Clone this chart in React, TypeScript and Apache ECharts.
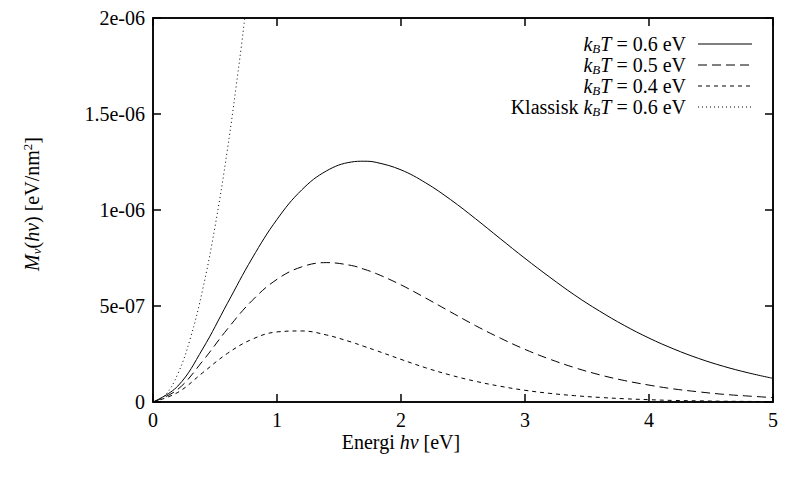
import { useEffect, useRef } from "react";
import * as echarts from "echarts";

// energy values (eV)
const energies = [0, 0.2, 0.4, 0.6, 0.8, 1.0, 1.2, 1.4, 1.6, 1.7, 1.8, 2.0, 2.2, 2.4, 2.6, 2.8, 3.0, 3.2, 3.4, 3.6, 3.8, 4.0, 4.2, 4.4, 4.6, 4.8, 5.0];
// M values in units of 1e-6 eV/nm^2
const kT06 = [0, 0.083, 0.276, 0.514, 0.749, 0.951, 1.105, 1.204, 1.25, 1.254, 1.248, 1.209, 1.141, 1.054, 0.955, 0.851, 0.748, 0.65, 0.557, 0.474, 0.399, 0.333, 0.276, 0.227, 0.186, 0.152, 0.123];
const kT05 = [0, 0.066, 0.213, 0.38, 0.529, 0.639, 0.704, 0.726, 0.711, 0.692, 0.669, 0.61, 0.541, 0.469, 0.398, 0.333, 0.274, 0.223, 0.179, 0.142, 0.112, 0.088, 0.068, 0.053, 0.04, 0.031, 0.023];
const kT04 = [0, 0.05, 0.152, 0.253, 0.327, 0.365, 0.37, 0.349, 0.312, 0.29, 0.268, 0.222, 0.178, 0.14, 0.108, 0.082, 0.061, 0.045, 0.033, 0.024, 0.017, 0.012, 0.008, 0.006, 0.004, 0.003, 0.002];
const classicalX = [0, 0.1, 0.2, 0.3, 0.4, 0.5, 0.6, 0.7, 0.74];
const classicalY = [0, 0.037, 0.146, 0.329, 0.584, 0.913, 1.314, 1.789, 2.0];
const yTickLabels = ["0", "5e-07", "1e-06", "1.5e-06", "2e-06"];
const legendLabels = [
  "{i|k}{s|B}{i|T}{r| = 0.6 eV}",
  "{i|k}{s|B}{i|T}{r| = 0.5 eV}",
  "{i|k}{s|B}{i|T}{r| = 0.4 eV}",
  "{r|Klassisk }{i|k}{s|B}{i|T}{r| = 0.6 eV}",
];
const dashes: (number[] | "solid")[] = ["solid", [9, 5], [4, 4], [1, 3]];

const font = "'Liberation Serif', 'DejaVu Serif', serif";
const rich = {
  r: { fontFamily: font, fontSize: 20, fill: "#000" },
  i: { fontFamily: font, fontSize: 20, fontStyle: "italic" as const, fill: "#000" },
  s: { fontFamily: font, fontSize: 13, fontStyle: "italic" as const, fill: "#000", padding: [8, 0, 0, 0] },
  sup: { fontFamily: font, fontSize: 13, fill: "#000", padding: [0, 0, 9, 0] },
};

const App = () => {
  const ref = useRef<HTMLDivElement>(null);

  useEffect(() => {
    if (!ref.current) return;
    const chart = echarts.init(ref.current, null, { renderer: "svg" });
    const pair = (xs: number[], ys: number[]) => xs.map((x, i) => [x, ys[i]]);
    const seriesData = [pair(energies, kT06), pair(energies, kT05), pair(energies, kT04), pair(classicalX, classicalY)];

    const axisCommon = {
      type: "value" as const,
      axisLine: { show: true, onZero: false, lineStyle: { color: "#000", width: 1.5 } },
      axisTick: { show: true, inside: true, length: 8, lineStyle: { color: "#000", width: 1.5 } },
      splitLine: { show: false },
    };
    const labelStyle = { color: "#000", fontFamily: font, fontSize: 20 };

    const legendGraphics: any[] = [];
    legendLabels.forEach((t, i) => {
      const y = 36 + i * 21;
      legendGraphics.push({
        type: "text", x: 678, y,
        style: { text: t, rich, textAlign: "right", textVerticalAlign: "middle" },
      });
      legendGraphics.push({
        type: "line", shape: { x1: 690, y1: y, x2: 744, y2: y },
        style: { stroke: "#000", lineWidth: 1, lineDash: dashes[i] === "solid" ? null : dashes[i] },
      });
    });

    chart.setOption({
      animation: false,
      grid: { left: 145, right: 20, top: 2, bottom: 68, show: true, borderColor: "#000", borderWidth: 1.5 },
      xAxis: [
        { ...axisCommon, min: 0, max: 5, interval: 1, axisLabel: { ...labelStyle, margin: 8 } },
        { ...axisCommon, position: "top", min: 0, max: 5, interval: 1, axisLabel: { show: false } },
      ],
      yAxis: [
        {
          ...axisCommon, min: 0, max: 2, interval: 0.5,
          axisLabel: { ...labelStyle, margin: 8, formatter: (v: number) => yTickLabels[Math.round(v * 2)] },
        },
        { ...axisCommon, position: "right", min: 0, max: 2, interval: 0.5, axisLabel: { show: false } },
      ],
      series: seriesData.map((d, i) => ({
        type: "line",
        data: d,
        smooth: 0.4,
        showSymbol: false,
        clip: true,
        lineStyle: { color: "#000", width: 1, type: dashes[i] },
      })),
      graphic: [
        {
          type: "text", x: 393, y: 434,
          style: { text: "{r|Energi }{i|hν}{r| [eV]}", rich, textAlign: "center", textVerticalAlign: "middle" },
        },
        {
          type: "text", x: 24, y: 196, rotation: Math.PI / 2,
          style: { text: "{i|M}{s|ν}{r|(}{i|hν}{r|) [eV/nm}{sup|2}{r|]}", rich, textAlign: "center", textVerticalAlign: "middle" },
        },
        ...legendGraphics,
      ],
    });
    return () => chart.dispose();
  }, []);

  return <div ref={ref} style={{ width: 785, height: 462 }} />;
};

export default App;
